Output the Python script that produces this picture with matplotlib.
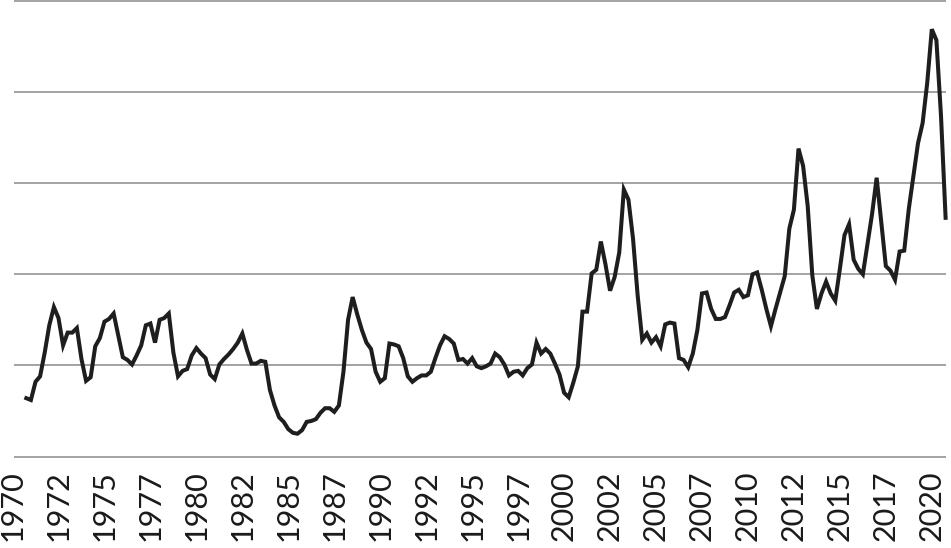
import matplotlib
matplotlib.use("Agg")
import matplotlib.pyplot as plt
import numpy as np

# quarterly series, first value is 1970 Q4 (index, grid step = 1)
start_year = 1970.75
values = [
    0.64, 0.62, 0.82, 0.88, 1.14, 1.44, 1.64, 1.52, 1.22, 1.36,
    1.36, 1.41, 1.07, 0.83, 0.87, 1.21, 1.30, 1.48, 1.51, 1.57,
    1.33, 1.09, 1.06, 1.01, 1.11, 1.22, 1.44, 1.46, 1.25, 1.50,
    1.52, 1.57, 1.14, 0.88, 0.94, 0.96, 1.11, 1.19, 1.13, 1.08,
    0.90, 0.85, 1.01, 1.07, 1.12, 1.18, 1.25, 1.35, 1.17, 1.02,
    1.02, 1.05, 1.04, 0.73, 0.56, 0.43, 0.38, 0.30, 0.26, 0.25,
    0.29, 0.38, 0.39, 0.41, 0.48, 0.53, 0.53, 0.49, 0.56, 0.93,
    1.50, 1.75, 1.56, 1.39, 1.25, 1.18, 0.93, 0.82, 0.86, 1.24,
    1.23, 1.21, 1.08, 0.88, 0.82, 0.86, 0.89, 0.89, 0.93, 1.08,
    1.22, 1.32, 1.29, 1.24, 1.06, 1.07, 1.02, 1.08, 0.99, 0.97,
    0.99, 1.02, 1.13, 1.09, 1.01, 0.89, 0.93, 0.94, 0.89, 0.97,
    1.01, 1.25, 1.13, 1.18, 1.13, 1.02, 0.90, 0.70, 0.65, 0.81,
    0.99, 1.59, 1.59, 2.01, 2.05, 2.36, 2.11, 1.82, 1.97, 2.24,
    2.93, 2.82, 2.39, 1.77, 1.28, 1.35, 1.25, 1.31, 1.21, 1.45,
    1.47, 1.46, 1.08, 1.06, 0.98, 1.13, 1.39, 1.79, 1.80, 1.62,
    1.51, 1.51, 1.53, 1.66, 1.80, 1.83, 1.75, 1.77, 2.00, 2.02,
    1.83, 1.62, 1.43, 1.62, 1.80, 1.98, 2.50, 2.71, 3.38, 3.19,
    2.75, 1.99, 1.62, 1.79, 1.92, 1.79, 1.71, 2.06, 2.43, 2.55,
    2.16, 2.06, 2.00, 2.33, 2.66, 3.06, 2.57, 2.09, 2.04, 1.94,
    2.25, 2.26, 2.72, 3.08, 3.44, 3.66, 4.10, 4.69, 4.57, 3.74,
    2.62,
]
grid_levels = [0, 1, 2, 3, 4, 5]
# category labels every 10 quarters, shown as the year only
tick_pos = [1970 + 2.5 * k for k in range(21)]
tick_labels = [str(int(t)) for t in tick_pos]

x = start_year + 0.25 * np.arange(len(values))

fig = plt.figure(figsize=(9.51, 5.48), dpi=100)
ax = fig.add_axes([0.0122, 0.16697, 0.9826, 0.8312])

ax.hlines(grid_levels, 1970.08, 2020.775, color="#a3a3a3", linewidth=1.4,
          zorder=1, clip_on=False)
ax.plot(x, values, color="#1e1e1e", linewidth=2.9, solid_joinstyle="miter",
        zorder=3, clip_on=False)

ax.set_xlim(1969.95, 2020.775)
ax.set_ylim(0, 5)
ax.set_yticks([])
ax.set_xticks(tick_pos)
ax.set_xticklabels(tick_labels, rotation=90, fontsize=22, family="Lato",
                   fontweight="normal", color="#1a1a1a")
ax.tick_params(axis="x", length=0, pad=10)
for s in ax.spines.values():
    s.set_visible(False)

fig.savefig("out.png", dpi=100)
